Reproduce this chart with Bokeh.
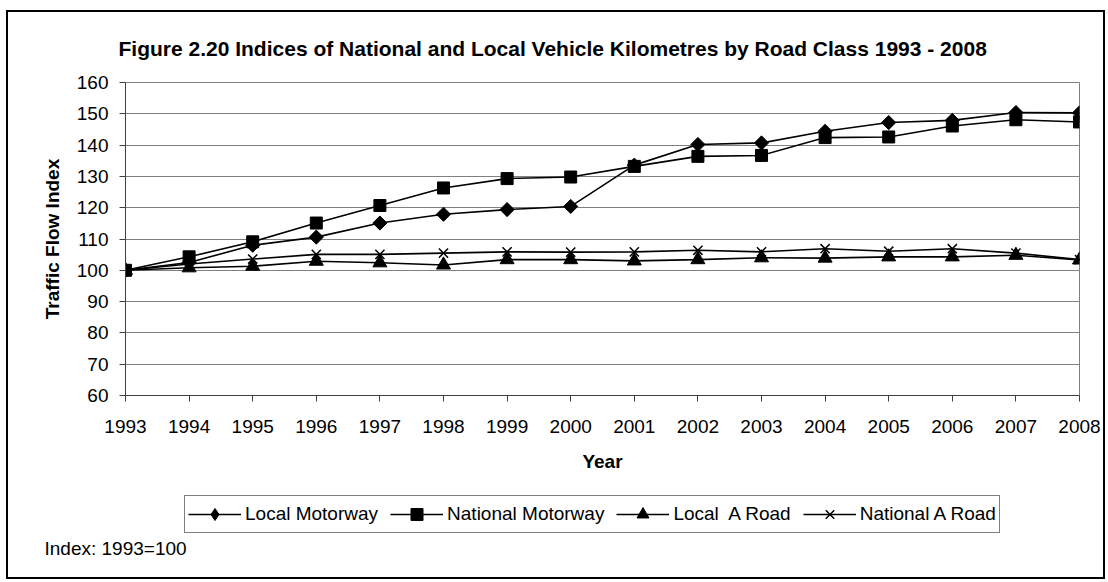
import math
from bokeh.plotting import figure
from bokeh.layouts import column
from bokeh.models import Range1d, FixedTicker, Legend, LegendItem, Label
from bokeh.embed import file_html
from bokeh.resources import INLINE

# ---- data ----
years = [1993, 1994, 1995, 1996, 1997, 1998, 1999, 2000,
         2001, 2002, 2003, 2004, 2005, 2006, 2007, 2008]
local_motorway = [100, 102.5, 108.0, 110.6, 115.1, 117.9, 119.4, 120.4,
                  133.6, 140.2, 140.7, 144.4, 147.2, 147.9, 150.4, 150.3]
national_motorway = [100, 104.3, 109.1, 115.1, 120.7, 126.3, 129.3, 129.8,
                     133.2, 136.4, 136.7, 142.4, 142.6, 146.1, 148.1, 147.4]
local_a_road = [100, 100.8, 101.3, 102.9, 102.4, 101.7, 103.4, 103.4,
                103.0, 103.4, 104.0, 103.9, 104.3, 104.3, 104.8, 103.3]
national_a_road = [100, 102.0, 103.6, 105.1, 105.1, 105.5, 105.9, 105.8,
                   105.9, 106.4, 105.9, 106.9, 106.1, 106.9, 105.5, 103.4]
y_ticks = [60, 70, 80, 90, 100, 110, 120, 130, 140, 150, 160]
series_names = ["Local Motorway", "National Motorway", "Local  A Road", "National A Road"]

title_text = "Figure 2.20 Indices of National and Local Vehicle Kilometres by Road Class 1993 - 2008"
footnote_text = "Index: 1993=100"
FONT = "Liberation Sans"

W = 1095
H1, H2 = 468, 97

series_values = [local_motorway, national_motorway, local_a_road, national_a_road]
# marker, size, angle, filled
marker_styles = [("square", 10, math.pi / 4, True),
                 ("square", 12, 0.0, True),
                 ("triangle", 14, 0.0, True),
                 ("x", 13, 0.0, False)]
legend_marker_styles = [("diamond", 15, 0.0, True)] + marker_styles[1:]


def draw_series(fig, xs, ys, style):
    marker, size, angle, filled = style
    ln = fig.line(xs, ys, line_color="black", line_width=1.6)
    if filled:
        sc = fig.scatter(xs, ys, marker=marker, size=size, angle=angle,
                         fill_color="black", line_color="black")
    else:
        sc = fig.scatter(xs, ys, marker=marker, size=size, angle=angle,
                         line_color="black", line_width=1.5)
    return ln, sc


def no_frame_align(fig):
    if "frame_align" in fig.properties():
        fig.frame_align = False


# ---------------- main chart ----------------
p = figure(width=W, height=H1,
           x_range=Range1d(years[0], years[-1]), y_range=Range1d(y_ticks[0], y_ticks[-1]),
           output_backend="svg", toolbar_location=None,
           min_border_left=117, min_border_right=24, min_border_top=70, min_border_bottom=85,
           background_fill_color="white", border_fill_color="white")
no_frame_align(p)

p.title.text = title_text
p.title.align = "left"
p.title.offset = -7
p.title.text_font = FONT
p.title.text_font_size = "21px"
p.title.text_font_style = "bold"
p.title.text_color = "black"
p.title.standoff = 45

p.outline_line_color = "#808080"
p.outline_line_width = 1

p.xaxis.ticker = FixedTicker(ticks=years)
p.yaxis.ticker = FixedTicker(ticks=y_ticks)
for ax in (p.xaxis[0], p.yaxis[0]):
    ax.axis_line_color = "#404040"
    ax.axis_line_width = 1
    ax.major_tick_line_color = "#404040"
    ax.major_tick_out = 6
    ax.major_tick_in = 0
    ax.minor_tick_line_color = None
    ax.major_label_text_font = FONT
    ax.major_label_text_font_size = "19px"
    ax.major_label_text_color = "black"
    ax.axis_label_text_font = FONT
    ax.axis_label_text_font_size = "19px"
    ax.axis_label_text_font_style = "bold"
    ax.axis_label_text_color = "black"
p.xaxis.major_label_standoff = 18
p.yaxis.major_label_standoff = 11
p.xaxis.axis_label = "Year"
p.xaxis.axis_label_standoff = 15
p.yaxis.axis_label = "Traffic Flow Index"
p.yaxis.axis_label_standoff = 11

p.xgrid.visible = False
p.ygrid.grid_line_color = "#808080"
p.ygrid.grid_line_width = 1

for vals, style in zip(series_values, marker_styles):
    draw_series(p, years, vals, style)

# ---------------- legend + footnote strip ----------------
q = figure(width=W, height=H2, x_range=Range1d(0, W), y_range=Range1d(0, H2),
           output_backend="svg", toolbar_location=None,
           x_axis_location=None, y_axis_location=None, min_border=0,
           background_fill_color="white", border_fill_color="white")
no_frame_align(q)
q.grid.visible = False
q.outline_line_color = None

# same series drawn in q (outside its visible ranges) so the legend has glyphs
items = []
for name, vals, style in zip(series_names, series_values, legend_marker_styles):
    ln, sc = draw_series(q, years, vals, style)
    items.append(LegendItem(label=name, renderers=[ln, sc]))

legend = Legend(items=items, orientation="horizontal", location=(176, 44),
                border_line_color="black", border_line_width=1,
                label_text_font=FONT, label_text_font_size="19px",
                label_text_color="black",
                glyph_width=53, glyph_height=30, label_standoff=4,
                spacing=12, padding=3, margin=0,
                background_fill_color="white")
q.add_layout(legend)

q.add_layout(Label(x=36, y=29, text=footnote_text, text_font=FONT,
                   text_font_size="19px", text_color="black",
                   text_baseline="middle"))

layout = column(p, q, spacing=0,
                styles={"border": "2px solid black", "margin-left": "6px",
                        "margin-top": "10px"})

open("out.html", "w").write(file_html(layout, INLINE))
